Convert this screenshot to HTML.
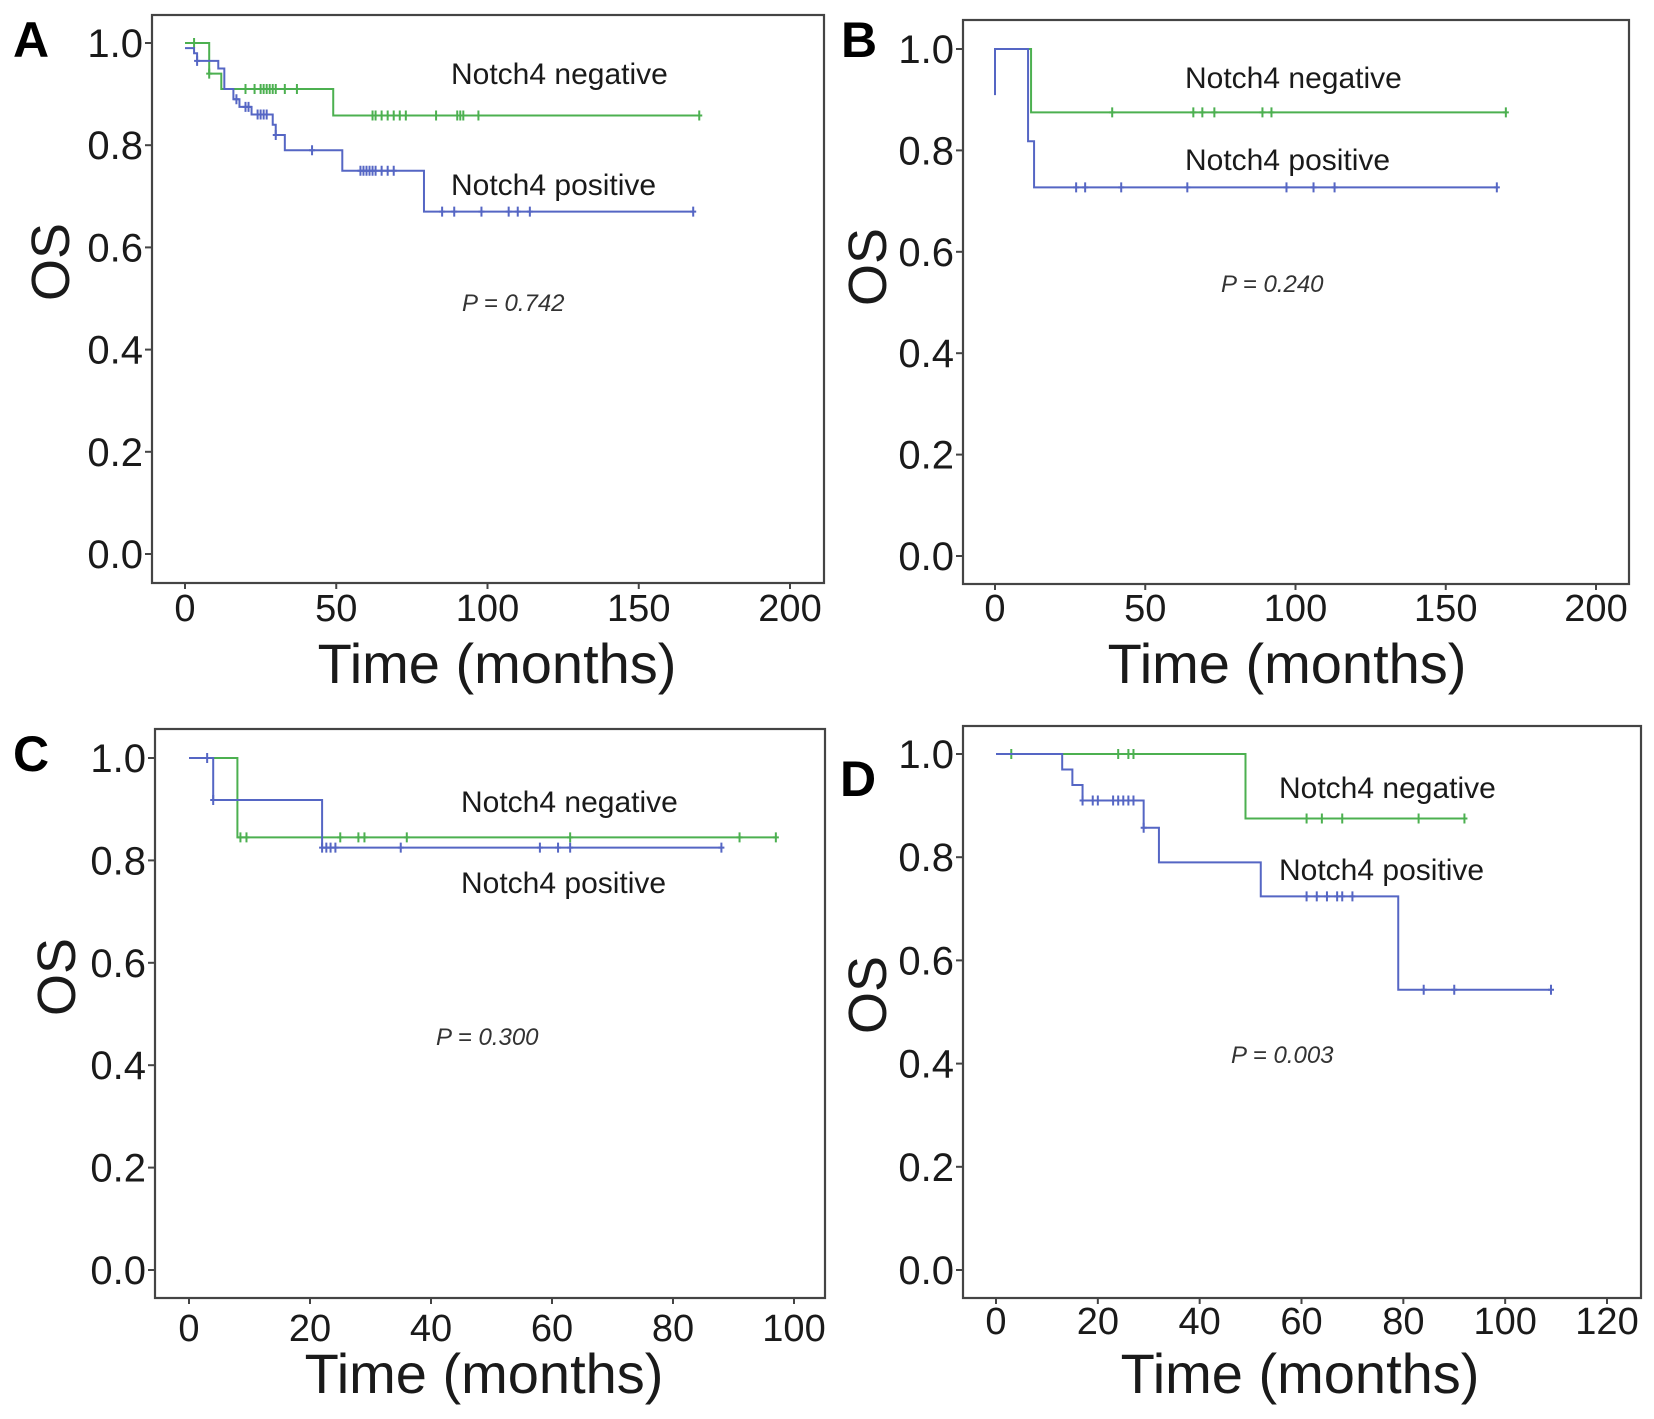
<!DOCTYPE html>
<html><head><meta charset="utf-8">
<style>
html,body{margin:0;padding:0;background:#fff;overflow:hidden;}
svg{display:block;font-family:"Liberation Sans",Arial,sans-serif;}
</style></head>
<body>
<svg id="fig" width="1654" height="1419" viewBox="0 0 1654 1419" xmlns="http://www.w3.org/2000/svg"></svg>
<script>
// ---- Panel A data ----
const aNegT=[0,8,12,49,170];
const aNegS=[1.0,0.94,0.91,0.858,0.858];
const aNegC=[3,8,20,23,25,26,27,28,29,30,33,37,62,63,65,67,69,71,73,83,90,91,92,97,170];
const aPosT=[0,3,4,11,13,16,18,22,29,30,33,52,79,168];
const aPosS=[0.99,0.98,0.965,0.95,0.91,0.89,0.875,0.86,0.84,0.82,0.79,0.75,0.67,0.67];
const aPosC=[4,17,20,21,24,25,26,27,30,42,58,59,60,61,62,63,65,67,69,85,89,98,107,110,114,168];
// ---- Panel B data ----
const bNegT=[0,12,170];
const bNegS=[1.0,0.875,0.875];
const bNegC=[39,66,69,73,89,92,170];
const bPosT=[0,0,11,13,167];
const bPosS=[0.909,1.0,0.818,0.727,0.727];
const bPosC=[27,30,42,64,97,106,113,167];
// ---- Panel C data ----
const cNegT=[0,8,97];
const cNegS=[1.0,0.845,0.845];
const cNegC=[8.5,9.5,25,28,29,36,63,91,97];
const cPosT=[0,4,22,88];
const cPosS=[1.0,0.918,0.825,0.825];
const cPosC=[3,4,22,22.7,23.4,24.2,35,58,61,63,88];
// ---- Panel D data ----
const dNegT=[0,49,92];
const dNegS=[1.0,0.875,0.875];
const dNegC=[3,24,26,27,61,64,68,83,92];
const dPosT=[0,13,15,17,29,32,52,79,109];
const dPosS=[1.0,0.97,0.94,0.91,0.857,0.79,0.724,0.543,0.543];
const dPosC=[17,19,20,23,24,25,26,27,29,61,63,65,67,68,70,84,90,109];
// ---- axis tick labels ----
const yTicks=[0.0,0.2,0.4,0.6,0.8,1.0];
const xTicksAB=[0,50,100,150,200];
const xTicksC=[0,20,40,60,80,100];
const xTicksD=[0,20,40,60,80,100,120];
const pValues=["0.742","0.240","0.300","0.003"];

const NS="http://www.w3.org/2000/svg";
const svg=document.getElementById('fig');
const GREEN="#4cb050", BLUE="#5566c4", INK="#1a1a1a";
function mk(tag,attrs,parent){const e=document.createElementNS(NS,tag);for(const k in attrs)e.setAttribute(k,attrs[k]);(parent||svg).appendChild(e);return e;}

function panel(cfg){
  const g=mk('g',{});
  
  
  const X=v=>cfg.x0+(v-cfg.xmin)/(cfg.xmax-cfg.xmin)*(cfg.x1-cfg.x0);
  const Y=v=>cfg.y0+(v)*(cfg.y1-cfg.y0);
  const fr=mk('rect',{x:cfg.fl,y:cfg.ft,width:cfg.fr-cfg.fl,height:cfg.fb-cfg.ft,fill:'none',stroke:'#444',"stroke-width":2.2},g);
  
  
  cfg.yt.forEach(v=>{
    const y=Y(v);
    const t=mk('line',{x1:cfg.fl-7,x2:cfg.fl,y1:y,y2:y,stroke:'#444',"stroke-width":2},g);
    
    
    const l=mk('text',{x:cfg.fl-9,y:y+14,"text-anchor":"end","font-size":40,fill:INK},g);
    l.textContent=v.toFixed(1);
    
    
  });
  cfg.xt.forEach(v=>{
    const x=X(v);
    const t=mk('line',{x1:x,x2:x,y1:cfg.fb,y2:cfg.fb+6,stroke:'#444',"stroke-width":2},g);
    
    
    const l=mk('text',{x:x,y:cfg.xlb,"text-anchor":"middle","font-size":38,fill:INK},g);
    l.textContent=String(v);
    
    
  });
  function series(T,S,C,color,name){
    let d='M'+X(T[0])+' '+Y(S[0]);
    for(let i=1;i<T.length;i++){d+=' H'+X(T[i])+' V'+Y(S[i]);}
    const p=mk('path',{d:d,fill:'none',stroke:color,"stroke-width":2},g);
    
    
    C.forEach(c=>{
      let s=S[0];for(let i=0;i<T.length;i++){if(T[i]<=c)s=S[i];}
      const x=X(c),y=Y(s);
      const m=mk('path',{d:'M'+x+' '+(y-5)+' V'+(y+5)+' M'+(x-3)+' '+y+' H'+(x+3),stroke:color,"stroke-width":2},g);
      
      
    });
  }
  series(cfg.negT,cfg.negS,cfg.negC,GREEN,'notch4-negative');
  series(cfg.posT,cfg.posS,cfg.posC,BLUE,'notch4-positive');
  const ln=mk('text',{x:cfg.lx,y:cfg.lny,"font-size":30,fill:INK},g);
  ln.textContent='Notch4 negative';
  
  
  const lp=mk('text',{x:cfg.lx,y:cfg.lpy,"font-size":30,fill:INK},g);
  lp.textContent='Notch4 positive';
  
  
  const pv=mk('text',{x:cfg.px,y:cfg.py,"font-size":24,"font-style":"italic",fill:'#333'},g);
  pv.textContent='P = '+cfg.p;
  
  
  const xt=mk('text',{x:cfg.tx,y:cfg.ty,"text-anchor":"middle","font-size":56,fill:INK,"xml:space":"preserve"},g);
  xt.textContent='Time  (months)';
  
  
  const os=mk('text',{x:0,y:0,"text-anchor":"middle","font-size":54,fill:INK,transform:'translate('+(cfg.ox+19)+','+cfg.oy+') rotate(-90)'},g);
  os.textContent='OS';
  
  
  const pl=mk('text',{x:cfg.lbx,y:cfg.lby,"font-size":50,"font-weight":"bold",fill:'#000'},g);
  pl.textContent=cfg.id;
  
  
}

panel({id:'A',fl:152,ft:15,fr:824,fb:583,x0:185,x1:790,xmin:0,xmax:200,y0:554,y1:43,yt:yTicks,xt:xTicksAB,xlb:621,
  negT:aNegT,negS:aNegS,negC:aNegC,posT:aPosT,posS:aPosS,posC:aPosC,
  lx:451,lny:84,lpy:195,px:462,py:311,p:pValues[0],tx:497,ty:683,ox:50,oy:262,lbx:13,lby:57});
panel({id:'B',fl:963,ft:20,fr:1629,fb:584,x0:995,x1:1596,xmin:0,xmax:200,y0:556,y1:49,yt:yTicks,xt:xTicksAB,xlb:621,
  negT:bNegT,negS:bNegS,negC:bNegC,posT:bPosT,posS:bPosS,posC:bPosC,
  lx:1185,lny:88,lpy:170,px:1221,py:292,p:pValues[1],tx:1287,ty:683,ox:867,oy:267,lbx:841,lby:57});
panel({id:'C',fl:155,ft:729,fr:825,fb:1298,x0:189,x1:794,xmin:0,xmax:100,y0:1270,y1:758,yt:yTicks,xt:xTicksC,xlb:1341,
  negT:cNegT,negS:cNegS,negC:cNegC,posT:cPosT,posS:cPosS,posC:cPosC,
  lx:461,lny:812,lpy:893,px:436,py:1045,p:pValues[2],tx:484,ty:1393,ox:56,oy:977,lbx:13,lby:771});
panel({id:'D',fl:963,ft:726,fr:1641,fb:1298,x0:996,x1:1607,xmin:0,xmax:120,y0:1270,y1:754,yt:yTicks,xt:xTicksD,xlb:1334,
  negT:dNegT,negS:dNegS,negC:dNegC,posT:dPosT,posS:dPosS,posC:dPosC,
  lx:1279,lny:798,lpy:880,px:1231,py:1063,p:pValues[3],tx:1300,ty:1393,ox:867,oy:995,lbx:840,lby:796});
</script>
</body></html>
